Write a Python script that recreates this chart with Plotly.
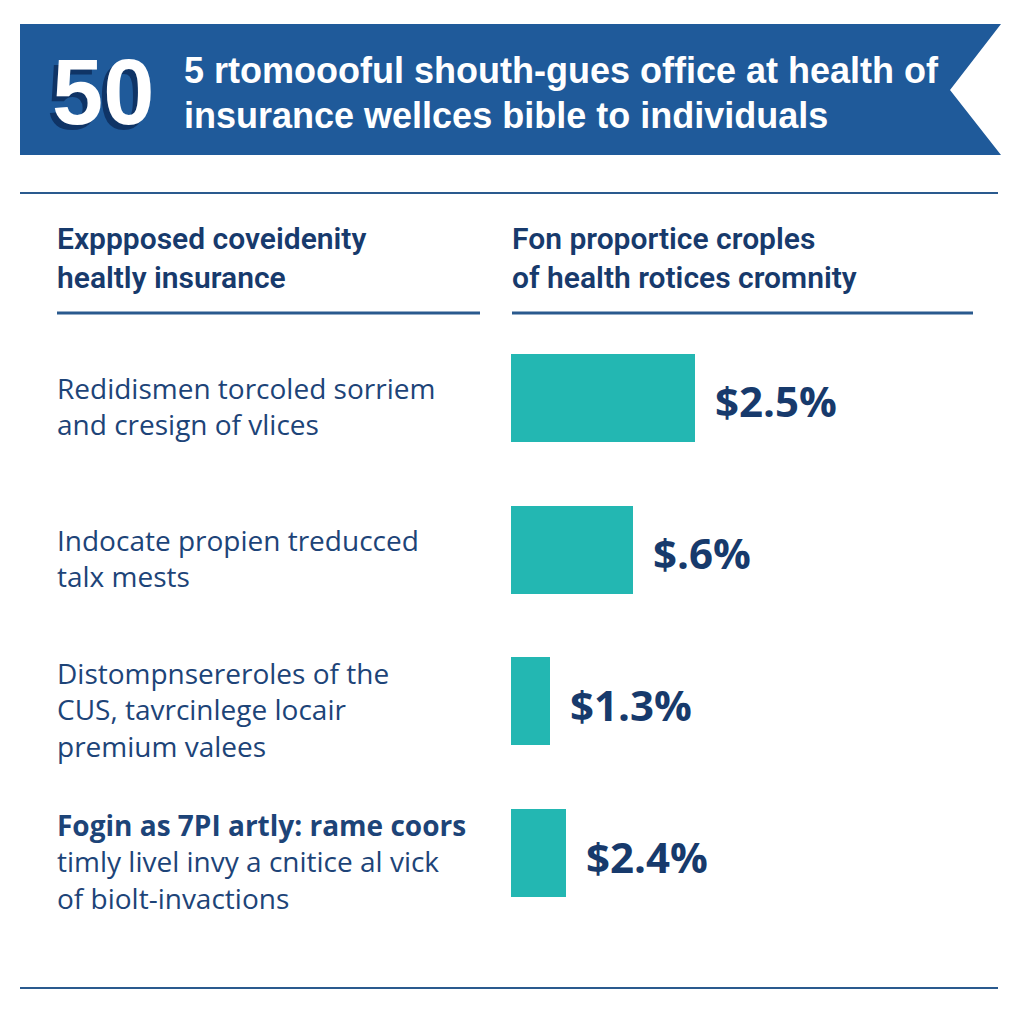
import plotly.graph_objects as go

# ---------------- data ----------------
badge_number = "50"
title_lines = ["5 rtomoooful shouth-gues office at health of",
               "insurance wellces bible to individuals"]
left_header = "Exppposed coveidenity<br>healtly insurance"
right_header = "Fon proportice croples<br>of health rotices cromnity"
row_labels = [
    "Redidismen torcoled sorriem<br>and cresign of vlices",
    "Indocate propien treducced<br>talx mests",
    "Distompnsereroles of the<br>CUS, tavrcinlege locair<br>premium valees",
    "<b>Fogin as 7PI artly: rame coors</b><br>timly livel invy a cnitice al vick<br>of biolt-invactions",
]
bar_values = [2.5, 1.66, 0.53, 0.75]
value_labels = ["$2.5%", "$.6%", "$1.3%", "$2.4%"]

# ---------------- style ----------------
W = H = 1024
BANNER = "#1f5a9a"
NAVY = "#173a6c"
TEXT = "#1d4478"
TEAL = "#23b7b2"
LINE = "#2a5a8e"


def px(x):
    return x / W


def py(y):
    return 1 - y / H


fig = go.Figure()
fig.add_trace(go.Bar(
    x=bar_values,
    y=list(range(len(bar_values))),
    orientation="h",
    marker=dict(color=TEAL, line=dict(width=0)),
    width=0.58,
    hoverinfo="skip",
))

annotations = []
# badge number with shadow
annotations.append(dict(
    x=px(103), y=py(92), xref="paper", yref="paper", xanchor="center", yanchor="middle",
    text=f"<b>{badge_number}</b>", showarrow=False,
    font=dict(family="Liberation Sans", size=92, color="white", shadow="-5px 5px 0px #0f3466"),
))
for t, yy in zip(title_lines, [70, 115]):
    annotations.append(dict(
        x=px(182), y=py(yy), xref="paper", yref="paper", xanchor="left", yanchor="middle",
        text=t, showarrow=False,
        font=dict(family="Liberation Sans", size=36, color="white", weight="bold"),
    ))
# headers
for t, xx in [(left_header, 55), (right_header, 510)]:
    annotations.append(dict(
        x=px(xx), y=py(258), xref="paper", yref="paper", xanchor="left", yanchor="middle",
        text=t, showarrow=False, align="left",
        font=dict(family="Roboto", size=30, color=NAVY, weight=600),
    ))
# row labels
for i, t in enumerate(row_labels):
    annotations.append(dict(
        x=px(55), y=i, xref="paper", yref="y", xanchor="left", yanchor="middle",
        yshift=-8, text=t, showarrow=False, align="left",
        font=dict(family="Open Sans", size=28, color=TEXT),
    ))
# value labels
for i, (v, t) in enumerate(zip(bar_values, value_labels)):
    annotations.append(dict(
        x=v, y=i, xref="x", yref="y", xanchor="left", yanchor="middle",
        xshift=18, yshift=-3, text=f"<b>{t}</b>", showarrow=False,
        font=dict(family="Open Sans", size=42, color=NAVY),
    ))

shapes = [
    # banner ribbon
    dict(type="path", xref="paper", yref="paper",
         path=f"M {px(20)},{py(24)} L {px(1001)},{py(24)} L {px(950)},{py(90)} "
              f"L {px(1001)},{py(155)} L {px(20)},{py(155)} Z",
         fillcolor=BANNER, line=dict(width=0), layer="below"),
    dict(type="line", xref="paper", yref="paper", x0=px(20), x1=px(998), y0=py(193), y1=py(193),
         line=dict(color=LINE, width=2)),
    dict(type="line", xref="paper", yref="paper", x0=px(57), x1=px(480), y0=py(313), y1=py(313),
         line=dict(color=LINE, width=3)),
    dict(type="line", xref="paper", yref="paper", x0=px(512), x1=px(973), y0=py(313), y1=py(313),
         line=dict(color=LINE, width=3)),
    dict(type="line", xref="paper", yref="paper", x0=px(20), x1=px(998), y0=py(988), y1=py(988),
         line=dict(color=LINE, width=2)),
]

fig.update_layout(
    width=W, height=H,
    margin=dict(l=0, r=0, t=0, b=0),
    paper_bgcolor="white", plot_bgcolor="white",
    showlegend=False,
    xaxis=dict(domain=[px(511), 1.0], range=[0, 6.97], visible=False, fixedrange=True),
    yaxis=dict(domain=[py(929), py(322)], range=[3.5, -0.5], visible=False, fixedrange=True),
    annotations=annotations,
    shapes=shapes,
    bargap=0,
)

fig.write_html("out.html", config=dict(displayModeBar=False, staticPlot=True))
